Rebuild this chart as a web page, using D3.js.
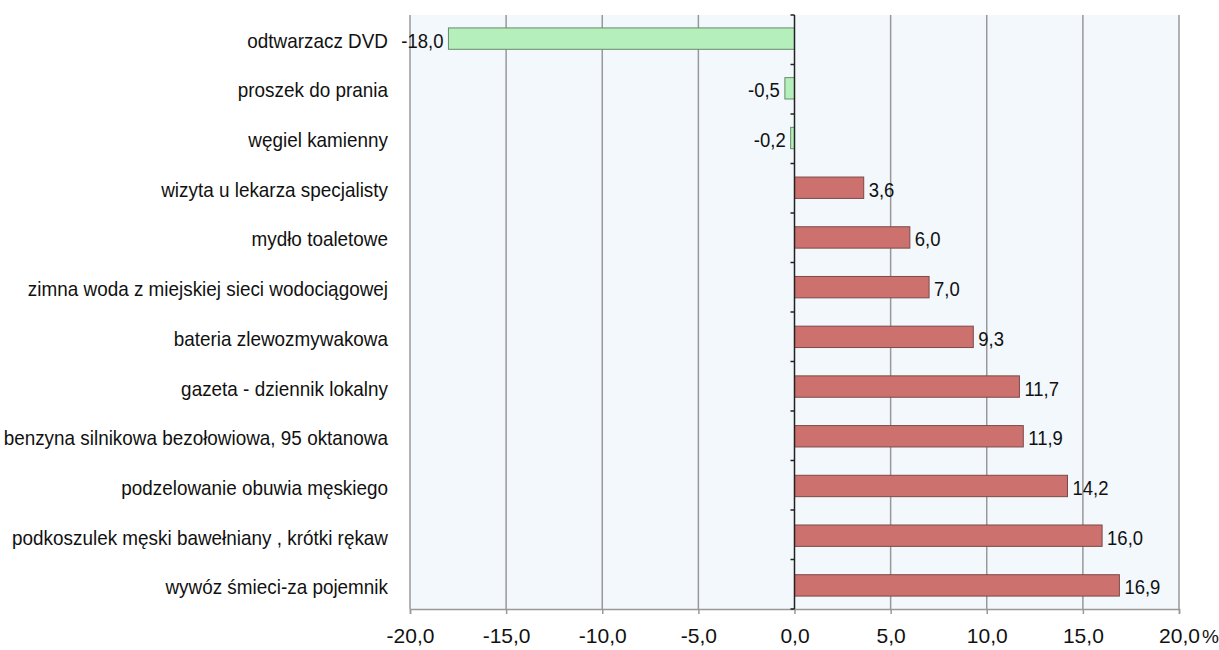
<!DOCTYPE html>
<head>
<meta charset="UTF-8">
<script src="https://cdn.jsdelivr.net/npm/d3@7"></script>
<style>
  body { margin: 0; background: #fff; }
  text { font-family: "Liberation Sans", Arial, sans-serif; fill: #111; }
</style>
</head>
<body>
<svg></svg>
<script>
var width = 1219, height = 650;

// dane
var kategorie = [
  "odtwarzacz DVD",
  "proszek do prania",
  "węgiel kamienny",
  "wizyta u lekarza specjalisty",
  "mydło toaletowe",
  "zimna woda z miejskiej sieci wodociągowej",
  "bateria zlewozmywakowa",
  "gazeta - dziennik lokalny",
  "benzyna silnikowa bezołowiowa, 95 oktanowa",
  "podzelowanie obuwia męskiego",
  "podkoszulek męski bawełniany , krótki rękaw",
  "wywóz śmieci-za pojemnik"
];
var wartosci = [-18.0, -0.5, -0.2, 3.6, 6.0, 7.0, 9.3, 11.7, 11.9, 14.2, 16.0, 16.9];
var ticksX = [-20, -15, -10, -5, 0, 5, 10, 15, 20];

var margin = {top: 15, left: 410, right: 40, bottom: 41};
var plotW = width - margin.left - margin.right;   // 769
var plotH = height - margin.top - margin.bottom;  // 594

// format z przecinkiem i zwyklym minusem
var fmt = function (v) { return v.toFixed(1).replace(".", ","); };

var svg = d3.select("svg").attr("width", width).attr("height", height);
var g = svg.append("g").attr("transform", "translate(" + margin.left + "," + margin.top + ")");

var x = d3.scaleLinear().domain([-20, 20]).range([0, plotW]);
var y = d3.scaleBand().domain(kategorie).range([0, plotH]).paddingInner(0.57).paddingOuter(0.26);

// tlo
g.append("rect").attr("width", plotW).attr("height", plotH).attr("fill", "#f2f8fc");

// siatka
g.selectAll(".grid").data(ticksX.filter(function (t) { return t !== 0; }))
  .enter().append("line")
  .attr("x1", function (d) { return x(d); }).attr("x2", function (d) { return x(d); })
  .attr("y1", 0).attr("y2", plotH)
  .attr("stroke", "#999").attr("stroke-width", 1.5);

// os X
var xAxis = g.append("g").attr("transform", "translate(0," + plotH + ")")
  .call(d3.axisBottom(x).tickValues(ticksX).tickSize(5).tickPadding(0).tickFormat(fmt));
xAxis.select(".domain").attr("stroke", "#999").attr("stroke-width", 1.5);
xAxis.selectAll(".tick line").attr("stroke", "#999").attr("stroke-width", 1.5);
xAxis.selectAll(".tick text")
  .attr("font-size", 21).attr("font-family", "Liberation Sans, Arial, sans-serif")
  .attr("fill", "#111").attr("dy", null).attr("y", 34);
g.append("text").attr("x", x(20) + 23).attr("y", plotH + 34).attr("font-size", 19).text("%");

// slupki
g.selectAll(".bar").data(wartosci).enter().append("rect")
  .attr("x", function (d) { return x(Math.min(0, d)); })
  .attr("y", function (d, i) { return y(kategorie[i]); })
  .attr("width", function (d) { return Math.abs(x(d) - x(0)); })
  .attr("height", y.bandwidth())
  .attr("fill", function (d) { return d < 0 ? "#b4efbc" : "#cc716d"; })
  .attr("stroke", function (d) { return d < 0 ? "#6a8a6c" : "#7d4a48"; })
  .attr("stroke-width", 1);

// etykiety wartosci
g.selectAll(".val").data(wartosci).enter().append("text")
  .attr("transform", function (d, i) {
    var tx = d < 0 ? x(d) - 5 : x(d) + 5;
    var ty = y(kategorie[i]) + y.bandwidth() / 2 + 9;
    return "translate(" + tx + "," + ty + ") scale(0.88,1)";
  })
  .attr("text-anchor", function (d) { return d < 0 ? "end" : "start"; })
  .attr("font-size", 21)
  .text(fmt);

// os zero
var pasy = d3.range(kategorie.length + 1).map(function (i) { return i * plotH / kategorie.length; });
g.append("line").attr("x1", x(0)).attr("x2", x(0)).attr("y1", 0).attr("y2", plotH)
  .attr("stroke", "#222").attr("stroke-width", 1.5);
g.selectAll(".ztick").data(pasy).enter().append("line")
  .attr("x1", x(0) - 4).attr("x2", x(0))
  .attr("y1", function (d) { return d; }).attr("y2", function (d) { return d; })
  .attr("stroke", "#222").attr("stroke-width", 1.5);

// etykiety kategorii
g.selectAll(".cat").data(kategorie).enter().append("text")
  .attr("transform", function (d) {
    return "translate(-22," + (y(d) + y.bandwidth() / 2 + 9) + ") scale(0.9,1)";
  })
  .attr("text-anchor", "end")
  .attr("font-size", 21)
  .text(function (d) { return d; });
</script>
</body>
